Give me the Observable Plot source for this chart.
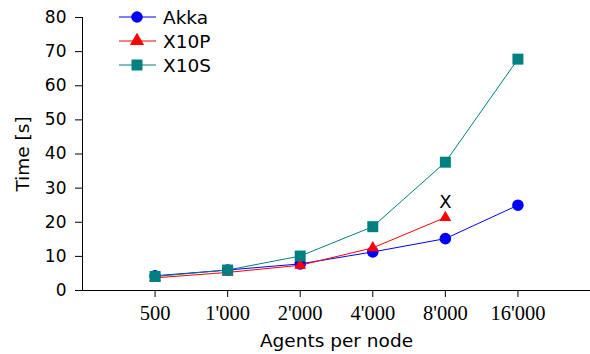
<!DOCTYPE html>
<html><head><meta charset="utf-8">
<script src="https://cdn.jsdelivr.net/npm/d3@7"></script>
<script src="https://cdn.jsdelivr.net/npm/@observablehq/plot@0.6"></script>
<style>
body{margin:0;background:#fff;}
#wrap{position:relative;width:590px;height:354px;}
#legend{position:absolute;left:117px;top:5px;}
</style></head><body><div id="wrap"><div id="legend"></div></div>
<script>
const agents = [500, 1000, 2000, 4000, 8000, 16000];
const tickLabels = ["500", "1'000", "2'000", "4'000", "8'000", "16'000"];
const akka = [4.3, 6.0, 7.8, 11.3, 15.2, 25.0];
const x10p = [3.7, 5.3, 7.4, 12.5, 21.4];
const x10s = [4.1, 6.0, 10.1, 18.7, 37.6, 67.8];
const seriesNames = ["Akka", "X10P", "X10S"];
const colors = ["#0000ff", "#ff0000", "#008080"];
const symbols = ["circle", "triangle", "square"];
const radii = [5.8, 4.4, 6.2];
const yTicks = [0, 10, 20, 30, 40, 50, 60, 70, 80];
const annotation = [{agents: 8000, time: 25.8, text: "X"}];

// agents are evenly spaced on a doubling axis: position = log2(agents / 500)
const pos = (a) => Math.log2(a / agents[0]);

const seriesValues = [akka, x10p, x10s];
const data = seriesValues.flatMap((vals, i) =>
  vals.map((v, j) => ({series: seriesNames[i], pos: pos(agents[j]), time: v})));
const annData = annotation.map(d => ({...d, pos: pos(d.agents)}));

const lineMarks = seriesNames.flatMap((name, i) => {
  const d = data.filter(r => r.series === name);
  return [
    Plot.line(d, {x: "pos", y: "time", stroke: colors[i], strokeWidth: 1}),
    Plot.dot(d, {x: "pos", y: "time", symbol: () => symbols[i], fill: colors[i], stroke: "none", r: radii[i]})
  ];
});

const tickPos = agents.map(pos);

const chart = Plot.plot({
  width: 590, height: 354,
  marginLeft: 82, marginRight: 0, marginTop: 17, marginBottom: 64,
  style: {fontFamily: "DejaVu Sans", fontSize: "17px", color: "#000", background: "#fff"},
  x: {type: "linear", domain: [-1, 6]},
  y: {domain: [0, 80]},
  symbol: {type: "identity"},
  marks: [
    Plot.axisY({ticks: yTicks, tickSize: 7, tickPadding: 9, fontSize: 17, label: null}),
    Plot.axisY({ticks: [], label: "Time [s]", labelAnchor: "center", labelArrow: "none", labelOffset: 67, fontSize: 18.5}),
    Plot.axisX({ticks: tickPos, tickFormat: (d) => tickLabels[Math.round(d)], tickSize: 7, tickPadding: 8,
      fontSize: 20.5, fontFamily: "Liberation Serif", label: null}),
    Plot.axisX({ticks: [], label: "Agents per node", labelAnchor: "center", labelArrow: "none", labelOffset: 56, fontSize: 18.5}),
    Plot.ruleX([-1], {y1: 0, y2: 80, stroke: "#000"}),
    Plot.ruleY([0], {stroke: "#000"}),
    ...lineMarks,
    Plot.text(annData, {x: "pos", y: "time", text: "text", fontSize: 18, fill: "#000"})
  ]
});
document.getElementById("wrap").prepend(chart);

// legend
const lg = d3.select("#legend").append("svg").attr("width", 130).attr("height", 80)
  .style("font-family", "DejaVu Sans").style("font-size", "18.5px");
seriesNames.forEach((name, i) => {
  const g = lg.append("g").attr("transform", `translate(0,${12 + i * 24})`);
  g.append("line").attr("x1", 2).attr("x2", 39).attr("stroke", colors[i]).attr("stroke-width", 1);
  const sym = {circle: d3.symbolCircle, triangle: d3.symbolTriangle, square: d3.symbolSquare}[symbols[i]];
  const r = symbols[i] === "triangle" ? 5.3 : radii[i];
  g.append("path").attr("d", d3.symbol(sym, Math.PI * r * r)()).attr("transform", "translate(20,0)").attr("fill", colors[i]);
  g.append("text").attr("x", 46).attr("y", 7).text(name);
});
</script></body></html>
